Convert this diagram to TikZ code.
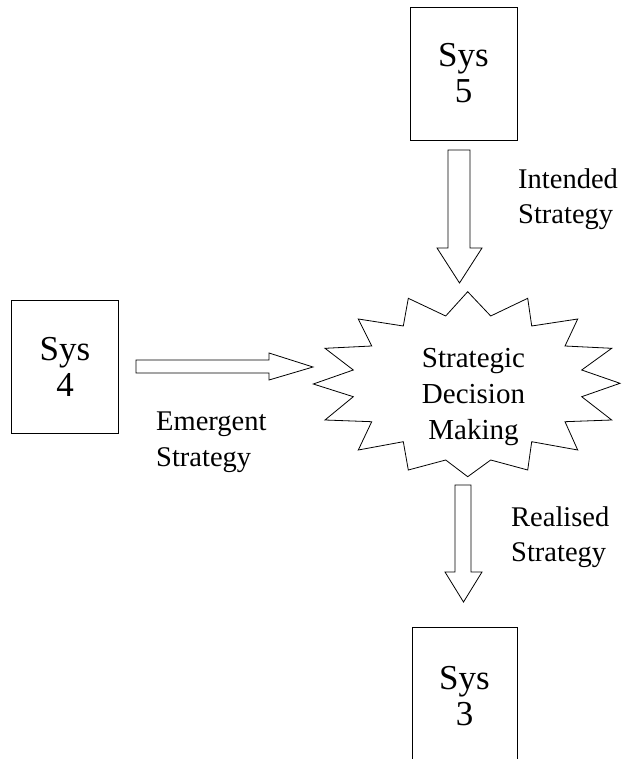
\documentclass[tikz,border=0pt]{standalone}
\usepackage{fontspec}
\setmainfont{Liberation Serif}
\begin{document}
\begin{tikzpicture}[x=1pt,y=-1pt,
  sysbox/.style={draw,line width=0.8pt,inner sep=0pt,align=center,
    font=\fontsize{35}{36}\selectfont},
  lbl/.style={align=left,anchor=north west,inner sep=0pt,
    font=\fontsize{28.5}{35.5}\selectfont},
  blockarrow/.style={draw,line width=0.8pt,fill=white,line join=miter}]
\useasboundingbox (0,0) rectangle (622,759);

% system boxes
\node[sysbox,minimum width=107pt,minimum height=133pt] (s5) at (463.5,73.5) {Sys\\5};
\node[sysbox,minimum width=107pt,minimum height=133pt] (s4) at (65,366.5) {Sys\\4};
\begin{scope}
\clip (0,0) rectangle (622,759);
\node[sysbox,minimum width=105pt,minimum height=160pt] (s3) at (464.5,707) {};
\end{scope}
\node[inner sep=0pt,font=\fontsize{35}{36}\selectfont,align=center] (s3t) at (464.5,696) {Sys\\3};

% starburst
\draw[line width=0.8pt,line join=miter]
  (467.7,291.7) -- (490.7,316) -- (527.7,298.3) -- (531.7,326) --
  (577.7,319) -- (565,346) -- (611.7,348.3) -- (581.7,370) --
  (620,383.3) -- (581.7,396.7) -- (611.7,420) -- (565,421.7) --
  (577.7,450) -- (531.7,441.7) -- (527.7,470) -- (490.7,460) --
  (467.7,476.7) -- (445.7,460) -- (408.3,470) -- (403.3,441.7) --
  (358.3,450) -- (371.7,421.7) -- (325,420) -- (353.3,396.7) --
  (313.3,384) -- (353.3,370) -- (325,348.3) -- (371.7,346) --
  (358.3,319) -- (403.3,326) -- (408.3,298.3) -- (445.7,316) -- cycle;
\node[inner sep=0pt,align=center,font=\fontsize{29}{36}\selectfont] (sdm) at (473.5,397.4)
  {Strategic\\Decision\\Making};

% block arrows
\draw[blockarrow] (448,150) -- (470,150) -- (470,248) -- (482,248) --
  (459.5,283) -- (437,248) -- (448,248) -- cycle;
\draw[blockarrow] (455,485) -- (471,485) -- (471,572) -- (482,572) --
  (463.5,602) -- (445,572) -- (455,572) -- cycle;
\draw[blockarrow] (136,360) -- (269,360) -- (269,353) -- (313,367) --
  (269,380) -- (269,373) -- (136,373) -- cycle;

% labels
\node[lbl] (li) at (518,168.5) {Intended\\Strategy};
\node[lbl] (le) at (156,412) {Emergent\\Strategy};
\node[lbl] (lr) at (511,506.5) {Realised\\Strategy};
\end{tikzpicture}
\end{document}
